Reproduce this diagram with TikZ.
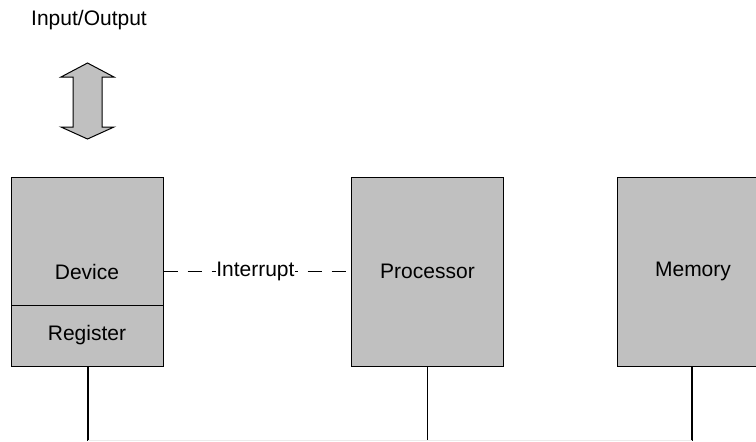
\documentclass[tikz,border=0pt]{standalone}
\usepackage{fontspec}
\setmainfont{Liberation Sans}
\usepackage{tikz}
\usetikzlibrary{positioning}

\begin{document}
\begin{tikzpicture}[x=0.5pt,y=-0.5pt,
    unit/.style={draw=black,line width=0.5pt,fill=boxgray,inner sep=0pt,
      minimum width=76pt,font=\fontsize{10.5}{12.6}\selectfont},
    wire/.style={line width=0.6pt},
    label/.style={font=\fontsize{10.5}{12.6}\selectfont,inner sep=1pt}]
  \definecolor{boxgray}{HTML}{C0C0C0}
  \useasboundingbox (0,0) rectangle (756,441);
  \clip (0,0) rectangle (756,441);

  %% input/output
  \node[label] (io) at (89,20) {Input/Output};
  \draw[line width=0.5pt,fill=boxgray] (87.5,63) -- (114,77) -- (102,77) -- (102,127)
    -- (114,127) -- (87.5,139) -- (61,127) -- (73,127) -- (73,77) -- (61,77) -- cycle;

  %% units
  \node[unit,minimum height=94.5pt] (dev) at (87,271.5) {Device};
  \node[unit,minimum height=30.5pt] (reg) at (87,335.5) {Register};
  \node[unit,minimum height=94.5pt] (proc) at (427.5,271.5) {Processor};
  \node[unit,minimum height=94.5pt] (mem) at (693,271.5) {Memory};

  % interrupt line
  \draw[line width=0.6pt,dash pattern=on 7pt off 5pt] (dev.east) -- (proc.west)
    node[label,fill=white,inner sep=0.3pt,pos=0.49] (irq) {Interrupt};

  %% bus (cut at the lower edge)
  \coordinate (busL) at (88,441);
  \coordinate (busR) at (692,441);
  \draw[wire] (reg.south -| busL) -- (busL);
  \draw[wire] (proc.south) -- (proc.south |- busL);
  \draw[wire] (mem.south -| busR) -- (busR);
  \draw[line width=0.5pt,black!8] ([yshift=0.2pt]busL) -- ([yshift=0.2pt]busR);
\end{tikzpicture}
\end{document}
